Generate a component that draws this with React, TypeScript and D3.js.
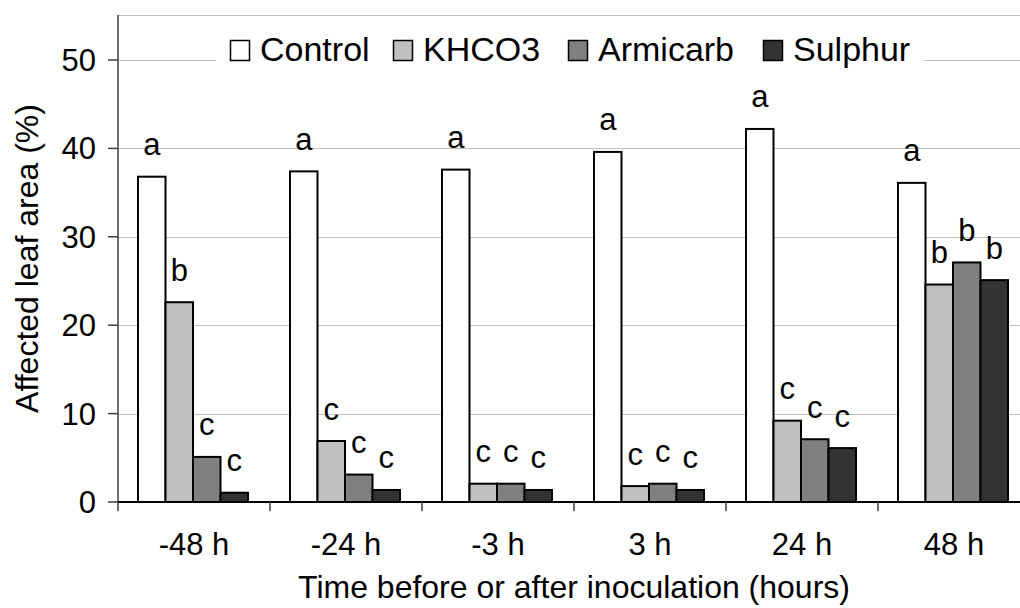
import React from "react";
import * as d3 from "d3";

const categories = ["-48 h", "-24 h", "-3 h", "3 h", "24 h", "48 h"];
const seriesNames = ["Control", "KHCO3", "Armicarb", "Sulphur"];
const controlValues = [36.8, 37.4, 37.6, 39.6, 42.2, 36.1];
const khco3Values = [22.6, 6.9, 2.07, 1.8, 9.2, 24.6];
const armicarbValues = [5.1, 3.1, 2.07, 2.07, 7.1, 27.1];
const sulphurValues = [1.05, 1.36, 1.36, 1.36, 6.1, 25.1];
const controlLetters = ["a", "a", "a", "a", "a", "a"];
const khco3Letters = ["b", "c", "c", "c", "c", "b"];
const armicarbLetters = ["c", "c", "c", "c", "c", "b"];
const sulphurLetters = ["c", "c", "c", "c", "c", "b"];
const yTicks = [0, 10, 20, 30, 40, 50];
const xTitle = "Time before or after inoculation (hours)";
const yTitle = "Affected leaf area (%)";

const seriesValues = [controlValues, khco3Values, armicarbValues, sulphurValues];
const seriesLetters = [controlLetters, khco3Letters, armicarbLetters, sulphurLetters];
const colors = ["#ffffff", "#c0c0c0", "#808080", "#333333"];
const legendX = [230, 393, 568, 763];

const FONT = "'Liberation Sans', Arial, Helvetica, sans-serif";

export default function App() {
  const W = 1020;
  const H = 608;
  const left = 118;
  const right = 1030;
  const top = 15;
  const x = d3.scaleBand<string>().domain(categories).range([left, right]).padding(0);
  const inner = d3.scaleBand<string>().domain(seriesNames).range([20, 130]).padding(0);
  const y = d3.scaleLinear().domain([0, 50]).range([502, 60]);
  const y0 = y(0);
  const step = x.step();

  return (
    <svg
      width={W}
      height={H}
      style={{ position: "absolute", left: 0, top: 0, background: "#fff" }}
      fontFamily={FONT}
    >
      <rect x={0} y={0} width={W} height={H} fill="#fff" />
      {/* top border */}
      <line x1={left} x2={W} y1={top + 0.5} y2={top + 0.5} stroke="#c0c0c0" strokeWidth={1} />
      {/* gridlines */}
      {yTicks.filter((t) => t > 0).map((t) => (
        <line key={t} x1={left} x2={W} y1={Math.round(y(t)) + 0.5} y2={Math.round(y(t)) + 0.5} stroke="#c0c0c0" strokeWidth={1} />
      ))}
      {/* legend background */}
      <rect x={216} y={28} width={708} height={62} fill="#fff" />
      {seriesNames.map((s, i) => (
        <g key={s}>
          <rect x={legendX[i] + 0.5} y={40.5} width={19} height={20} fill={colors[i]} stroke="#000" strokeWidth={1.5} />
          <text x={legendX[i] + 30} y={61} fontSize={34} fill="#000">
            {s}
          </text>
        </g>
      ))}
      {/* bars */}
      {categories.map((c, ci) =>
        seriesNames.map((s, si) => {
          const v = seriesValues[si][ci];
          const bx = (x(c) as number) + (inner(s) as number);
          const bw = inner.bandwidth();
          const by = y(v);
          return (
            <g key={c + s}>
              <rect x={bx} y={by} width={bw} height={y0 - by} fill={colors[si]} stroke="#000" strokeWidth={2} />
              <text x={bx + bw / 2} y={by - 21.5} fontSize={31} textAnchor="middle" fill="#000">
                {seriesLetters[si][ci]}
              </text>
            </g>
          );
        })
      )}
      {/* y axis */}
      <line x1={left} x2={left} y1={top} y2={y0} stroke="#404040" strokeWidth={1.5} />
      {yTicks.map((t) => (
        <g key={t}>
          <line x1={left - 10} x2={left} y1={y(t)} y2={y(t)} stroke="#404040" strokeWidth={1.5} />
          <text x={96} y={y(t) + 11} fontSize={31} textAnchor="end" fill="#000">
            {t}
          </text>
        </g>
      ))}
      {/* x axis */}
      <line x1={left} x2={W} y1={y0} y2={y0} stroke="#000" strokeWidth={2} />
      {d3.range(categories.length + 1).map((i) => (
        <line key={i} x1={left + i * step} x2={left + i * step} y1={y0} y2={y0 + 9} stroke="#404040" strokeWidth={1.5} />
      ))}
      {categories.map((c) => (
        <text key={c} x={(x(c) as number) + step / 2} y={555} fontSize={31} textAnchor="middle" fill="#000">
          {c}
        </text>
      ))}
      <text x={(left + right) / 2} y={598} fontSize={32} textAnchor="middle" fill="#000">
        {xTitle}
      </text>
      <text
        transform={`translate(38, ${(top + y0) / 2}) rotate(-90)`}
        fontSize={32}
        textAnchor="middle"
        fill="#000"
      >
        {yTitle}
      </text>
    </svg>
  );
}
